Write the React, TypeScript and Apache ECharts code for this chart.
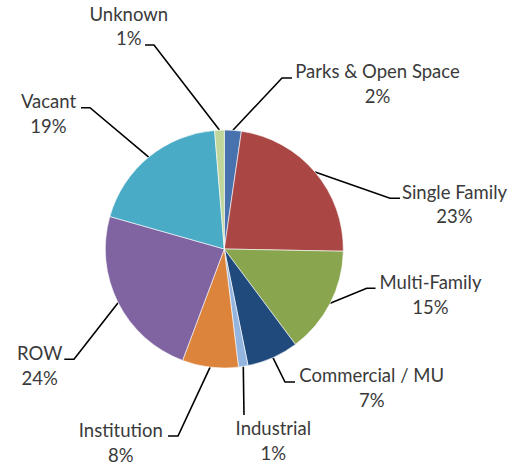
import React, { useEffect, useRef } from "react";
import * as echarts from "echarts";

const categories = [
  "Parks & Open Space",
  "Single Family",
  "Multi-Family",
  "Commercial / MU",
  "Industrial",
  "Institution",
  "ROW",
  "Vacant",
  "Unknown",
];
const shares = [2.3, 23.0, 14.5, 7.0, 1.3, 7.6, 23.7, 19.3, 1.3];
const colors = [
  "#4872AD",
  "#AA4643",
  "#89A54E",
  "#214A7C",
  "#94B5DF",
  "#DC843C",
  "#8064A2",
  "#4AABC6",
  "#C0D69B",
];

// label placement: text block centre, elbow, and line end next to the text
const labelPlacement = [
  { tx: 377.5, ty: 83.5, knee: [282, 78], end: [292, 78] },
  { tx: 454.5, ty: 204, knee: [390, 198.3], end: [400, 198.3] },
  { tx: 430.5, ty: 294.5, knee: [366.7, 288.3], end: [375.5, 288.3] },
  { tx: 371.7, ty: 387.5, knee: [285, 382], end: [295, 382] },
  { tx: 273.3, ty: 440.5, knee: [244, 415], end: [244, 415] },
  { tx: 120.8, ty: 442.5, knee: [178, 436], end: [168, 436] },
  { tx: 39.7, ty: 365.5, knee: [74, 359.3], end: [64.3, 359.3] },
  { tx: 48.5, ty: 113.5, knee: [90, 107.7], end: [81, 107.7] },
  { tx: 128.8, ty: 26, knee: [154, 45], end: [145, 45] },
];

export default function App() {
  const ref = useRef<HTMLDivElement>(null);
  useEffect(() => {
    if (!ref.current) return;
    const chart = echarts.init(ref.current, undefined, { renderer: "svg" });
    chart.setOption({
      animation: false,
      backgroundColor: "#ffffff",
      series: [
        {
          type: "pie",
          center: [224.3, 249],
          radius: 119,
          startAngle: 90,
          clockwise: true,
          avoidLabelOverlap: false,
          data: categories.map((name, i) => ({
            name,
            value: shares[i],
            itemStyle: { color: colors[i] },
          })),
          itemStyle: { borderColor: "#ffffff", borderWidth: 0.6 },
          label: {
            show: true,
            position: "outside",
            formatter: (p: any) => `${p.name}\n${Math.round(p.percent)}%`,
            fontFamily: "Lato",
            fontSize: 18.5,
            lineHeight: 24.5,
            color: "#3a3a3a",
            align: "center",
          },
          labelLine: {
            show: true,
            length: 20,
            length2: 10,
            smooth: false,
            lineStyle: { color: "#000000", width: 1.6 },
          },
          labelLayout: (params: any) => {
            const L = labelPlacement[params.dataIndex];
            const p0 =
              params.labelLinePoints && params.labelLinePoints[0]
                ? params.labelLinePoints[0]
                : L.knee;
            return {
              x: L.tx,
              y: L.ty,
              align: "center",
              verticalAlign: "middle",
              labelLinePoints: [p0, L.knee, L.end],
            };
          },
        },
      ],
    });
    return () => chart.dispose();
  }, []);
  return (
    <div
      ref={ref}
      style={{ position: "fixed", left: 0, top: 0, width: 515, height: 465 }}
    />
  );
}
